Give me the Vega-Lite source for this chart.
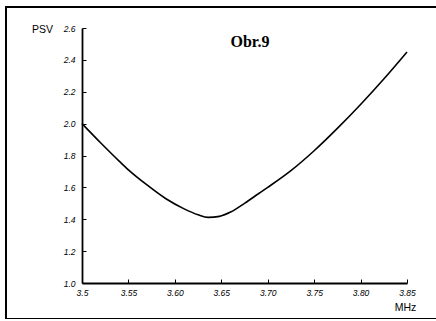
{
  "$schema": "https://vega.github.io/schema/vega-lite/v6.json",
  "autosize": {"type": "none"},
  "width": 432,
  "height": 312,
  "padding": {"left": 6, "top": 7, "right": 0, "bottom": 0},
  "background": "white",
  "title": {
    "text": "Obr.9",
    "font": "Liberation Serif",
    "fontSize": 16,
    "fontWeight": "bold",
    "color": "black",
    "anchor": "middle",
    "baseline": "alphabetic",
    "dx": 28,
    "offset": -56
  },
  "config": {
    "view": {"stroke": "black", "strokeWidth": 2},
    "axis": {
      "grid": false,
      "domainColor": "black",
      "domainWidth": 1.8,
      "tickColor": "black",
      "tickWidth": 1,
      "tickSize": -4,
      "labelFlush": false,
      "labelFont": "Liberation Sans",
      "labelFontStyle": "italic",
      "labelColor": "black",
      "labelFontSize": 8.5,
      "titleFont": "Liberation Sans",
      "titleFontSize": 10.5,
      "titleFontWeight": "normal",
      "titleColor": "black"
    }
  },
  "data": {
    "values": [
      {"MHz": 3.5, "PSV": 2.0},
      {"MHz": 3.52, "PSV": 1.88},
      {"MHz": 3.54, "PSV": 1.765},
      {"MHz": 3.55, "PSV": 1.71},
      {"MHz": 3.57, "PSV": 1.615},
      {"MHz": 3.59, "PSV": 1.53},
      {"MHz": 3.61, "PSV": 1.465},
      {"MHz": 3.625, "PSV": 1.428},
      {"MHz": 3.636, "PSV": 1.412},
      {"MHz": 3.648, "PSV": 1.418},
      {"MHz": 3.66, "PSV": 1.445},
      {"MHz": 3.675, "PSV": 1.5},
      {"MHz": 3.69, "PSV": 1.56},
      {"MHz": 3.7, "PSV": 1.6},
      {"MHz": 3.725, "PSV": 1.705},
      {"MHz": 3.75, "PSV": 1.83},
      {"MHz": 3.775, "PSV": 1.97},
      {"MHz": 3.8, "PSV": 2.12},
      {"MHz": 3.825, "PSV": 2.28},
      {"MHz": 3.85, "PSV": 2.45}
    ]
  },
  "mark": {"type": "line", "color": "black", "strokeWidth": 1.6, "interpolate": "monotone"},
  "encoding": {
    "x": {
      "field": "MHz",
      "type": "quantitative",
      "scale": {"domain": [3.5, 3.85], "range": [76, 401], "nice": false, "zero": false},
      "axis": {
        "values": [3.5, 3.55, 3.6, 3.65, 3.7, 3.75, 3.8, 3.85],
        "labelExpr": "datum.value == 3.5 ? '3.5' : format(datum.value, '.2f')",
        "offset": -36,
        "labelPadding": 9,
        "title": "MHz",
        "titleX": 399,
        "titleY": 24,
        "titleAlign": "center",
        "titleBaseline": "middle",
        "titleAnchor": null
      }
    },
    "y": {
      "field": "PSV",
      "type": "quantitative",
      "scale": {"domain": [1.0, 2.6], "range": [276, 21], "nice": false, "zero": false},
      "axis": {
        "values": [1.0, 1.2, 1.4, 1.6, 1.8, 2.0, 2.2, 2.4, 2.6],
        "format": ".1f",
        "offset": -76,
        "labelPadding": 11,
        "title": "PSV",
        "titleAngle": 0,
        "titleX": -40,
        "titleY": 22,
        "titleAlign": "center",
        "titleBaseline": "middle",
        "titleAnchor": null
      }
    }
  }
}
